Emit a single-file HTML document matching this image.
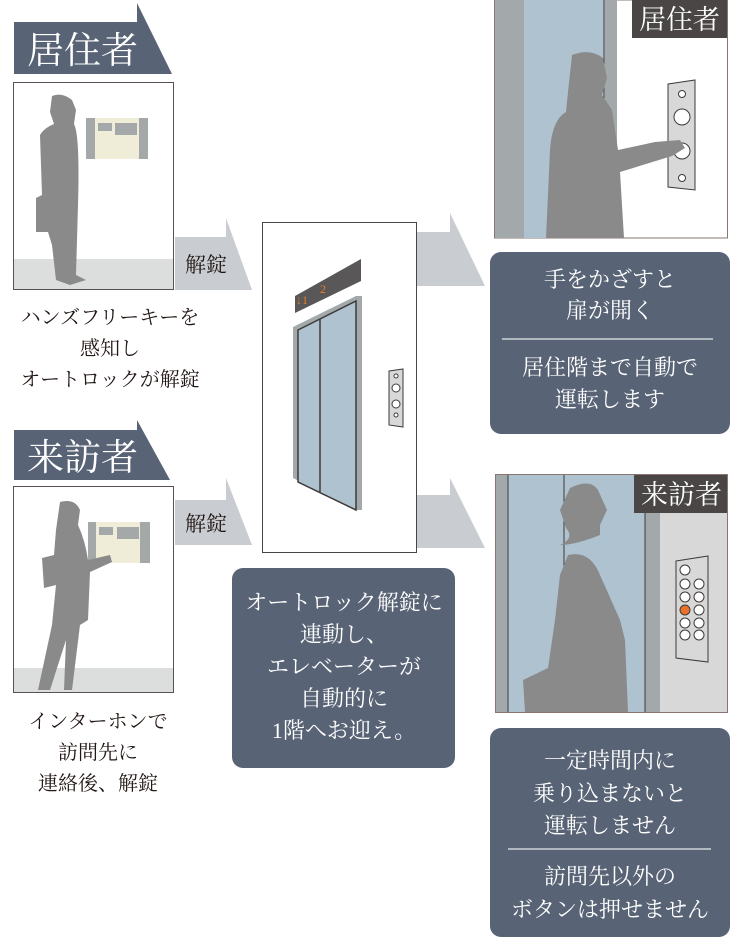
<!DOCTYPE html>
<html><head><meta charset="utf-8">
<style>
html,body{margin:0;padding:0;background:#fff;}
svg{display:block;}
text{font-family:"Liberation Serif","Noto Serif CJK SC",serif;}
.w{fill:#fff;font-size:22px;text-anchor:middle;}
.b{fill:#231815;font-size:20px;text-anchor:middle;}
</style></head>
<body>
<svg width="731" height="939" viewBox="0 0 731 939" xmlns="http://www.w3.org/2000/svg">
<polygon points="14,22 137,22 137,3 172,74 14,74" fill="#586476"/>
<text x="27" y="63" fill="#fff" style="font-size:37px">居住者</text>
<rect x="13.5" y="82.5" width="160" height="207" fill="#fff" stroke="#5a5250"/>
<rect x="14" y="259" width="159" height="30" fill="#dcdddd"/>
<rect x="86" y="118" width="62" height="41" fill="#a5a8a8"/>
<rect x="95" y="118" width="44" height="41" fill="#efecd8"/>
<rect x="98" y="123" width="14" height="8" fill="#a5a8a8"/><rect x="115" y="123" width="22" height="12" fill="#a5a8a8"/>
<path d="M52,96 Q62,92 72,100 L76,110 L74,124 Q80,135 78,205 L76,275 L86,280 L70,285 L56,280 L52,245 L48,232 L36,232 L36,198 L42,195 L40,135 Q44,128 54,124 L50,112 Z" fill="#8a8a8a"/>
<polygon points="175,237 226,237 226,218 252,290 175,290" fill="#c9cdd1"/>
<text x="185" y="272" fill="#231815" style="font-size:21px">解錠</text>
<text class="b" x="110" y="324">ハンズフリーキーを</text>
<text class="b" x="110" y="355">感知し</text>
<text class="b" x="110" y="386">オートロックが解錠</text>
<polygon points="14,430 137,430 137,420 170,480 14,480" fill="#586476"/>
<text x="27" y="470" fill="#fff" style="font-size:37px">来訪者</text>
<rect x="13.5" y="486.5" width="160" height="206" fill="#fff" stroke="#5a5250"/>
<rect x="14" y="668" width="159" height="24" fill="#dcdddd"/>
<rect x="88" y="522" width="62" height="41" fill="#a5a8a8"/>
<rect x="96" y="522" width="44" height="41" fill="#efecd8"/>
<rect x="99" y="527" width="14" height="8" fill="#a5a8a8"/><rect x="117" y="527" width="22" height="12" fill="#a5a8a8"/>
<path d="M60,502 Q75,498 80,510 L78,525 Q85,540 88,560 L110,555 L112,562 L90,572 L88,620 L80,625 L72,690 L64,690 L66,640 L50,690 L38,690 L52,625 L56,585 L44,588 L42,558 L54,555 L56,530 Z" fill="#8a8a8a"/>
<polygon points="175,500 226,500 226,478 252,545 175,545" fill="#c9cdd1"/>
<text x="185" y="531" fill="#231815" style="font-size:21px">解錠</text>
<text class="b" x="98" y="728">インターホンで</text>
<text class="b" x="98" y="759">訪問先に</text>
<text class="b" x="98" y="790">連絡後、解錠</text>
<polygon points="417,232 450,232 450,213 485,286 417,286" fill="#c9cdd1"/>
<polygon points="417,495 450,495 450,478 485,548 417,548" fill="#c9cdd1"/>
<rect x="262.5" y="222.5" width="154" height="330" fill="#fff" stroke="#4a4442"/>
<polygon points="295,296 361,259 361,281 295,313" fill="#595757"/>
<text x="296" y="304" fill="#e87d2c" style="font-size:12px">↓1</text>
<text x="320" y="293" fill="#e87d2c" style="font-size:12px">2</text>
<polygon points="293,327 356,296 362,296 362,510 356,510 293,478" fill="#a3a9ab"/>
<polygon points="298,330 356,301 356,510 298,482" fill="#aec3cf" stroke="#3e3a39" stroke-width="1.5"/>
<line x1="320" y1="319" x2="320" y2="492" stroke="#3e3a39" stroke-width="1.5"/>
<polygon points="389,371 403,369 403,427 389,425" fill="#d8d8d8" stroke="#3e3a39"/>
<circle cx="396" cy="376" r="2" fill="#fff" stroke="#3e3a39"/>
<circle cx="396" cy="388" r="4" fill="#fff" stroke="#3e3a39"/>
<circle cx="396" cy="404" r="4" fill="#fff" stroke="#3e3a39"/>
<circle cx="396" cy="415" r="2" fill="#fff" stroke="#3e3a39"/>
<rect x="232" y="568" width="223" height="200" rx="11" fill="#586476"/>
<text class="w" x="344" y="610">オートロック解錠に</text>
<text class="w" x="344" y="642">連動し、</text>
<text class="w" x="344" y="674">エレベーターが</text>
<text class="w" x="344" y="706">自動的に</text>
<text class="w" x="344" y="738">1階へお迎え。</text>
<rect x="494.5" y="0" width="233" height="238" fill="#fff" stroke="#8a7670"/>
<rect x="495" y="0" width="29" height="238" fill="#a3a9ab"/>
<rect x="524" y="0" width="81" height="238" fill="#aec3cf"/>
<rect x="605" y="0" width="12" height="238" fill="#a3a9ab"/>
<line x1="604" y1="0" x2="604" y2="238" stroke="#3e3a39"/>
<rect x="632" y="0" width="95" height="38" fill="#4a4646"/>
<text x="639" y="29" fill="#fff" style="font-size:27px">居住者</text>
<polygon points="668,84 695,80 695,190 668,187" fill="#d8d8d8" stroke="#3e3a39"/>
<circle cx="682" cy="94" r="3.5" fill="#fff" stroke="#3e3a39"/>
<circle cx="682" cy="117" r="8" fill="#fff" stroke="#3e3a39"/>
<circle cx="682" cy="151" r="8" fill="#fff" stroke="#3e3a39"/>
<circle cx="682" cy="178" r="3.5" fill="#fff" stroke="#3e3a39"/>
<path d="M572,55 Q590,48 603,58 L607,78 L602,95 L612,110 L618,150 L655,142 L680,140 L685,148 L672,156 L620,172 L624,238 L546,238 L550,150 Q552,120 566,112 L568,92 Z" fill="#8a8a8a"/>
<rect x="490" y="252" width="240" height="182" rx="11" fill="#586476"/>
<text class="w" x="610" y="287">手をかざすと</text>
<text class="w" x="610" y="318">扉が開く</text>
<line x1="502" y1="339" x2="713" y2="339" stroke="#d0d4d8" stroke-width="1.5"/>
<text class="w" x="610" y="375">居住階まで自動で</text>
<text class="w" x="610" y="407">運転します</text>
<rect x="495.5" y="474.5" width="232" height="238" fill="#d8d8d8" stroke="#8a7670"/>
<rect x="496" y="475" width="12" height="237" fill="#a3a9ab"/>
<rect x="508" y="475" width="147" height="237" fill="#aec3cf"/>
<rect x="645" y="475" width="15" height="237" fill="#a3a9ab"/>
<line x1="508" y1="475" x2="508" y2="712" stroke="#3e3a39"/>
<line x1="645" y1="475" x2="645" y2="712" stroke="#3e3a39"/>
<line x1="564" y1="475" x2="564" y2="660" stroke="#3e3a39"/>
<rect x="634" y="475" width="93" height="38" fill="#4a4646"/>
<text x="641" y="504" fill="#fff" style="font-size:27px">来訪者</text>
<polygon points="676,561 708,556 708,662 676,658" fill="#d8d8d8" stroke="#3e3a39"/>
<g fill="#fff" stroke="#3e3a39">
<circle cx="685" cy="570" r="5"/>
<circle cx="685" cy="584" r="5"/><circle cx="699" cy="584" r="5"/>
<circle cx="685" cy="597" r="5"/><circle cx="699" cy="597" r="5"/>
<circle cx="685" cy="610" r="5" fill="#e8722a"/><circle cx="699" cy="610" r="5"/>
<circle cx="685" cy="623" r="5"/><circle cx="699" cy="623" r="5"/>
<circle cx="685" cy="635" r="5"/><circle cx="699" cy="635" r="5"/>
</g>
<path d="M570,488 Q590,478 598,490 L607,510 L600,525 L600,535 Q575,545 560,545 Q575,538 566,528 L560,510 Z M568,555 Q590,550 600,575 L620,620 L625,640 L628,712 L525,712 L523,680 L548,668 L555,620 L560,575 Z" fill="#8a8a8a"/>
<rect x="490" y="728" width="240" height="209" rx="11" fill="#586476"/>
<text class="w" x="610" y="768">一定時間内に</text>
<text class="w" x="610" y="801">乗り込まないと</text>
<text class="w" x="610" y="833">運転しません</text>
<line x1="508" y1="849" x2="711" y2="849" stroke="#d0d4d8" stroke-width="1.5"/>
<text class="w" x="610" y="884">訪問先以外の</text>
<text class="w" x="610" y="917">ボタンは押せません</text>
</svg>
</body></html>
